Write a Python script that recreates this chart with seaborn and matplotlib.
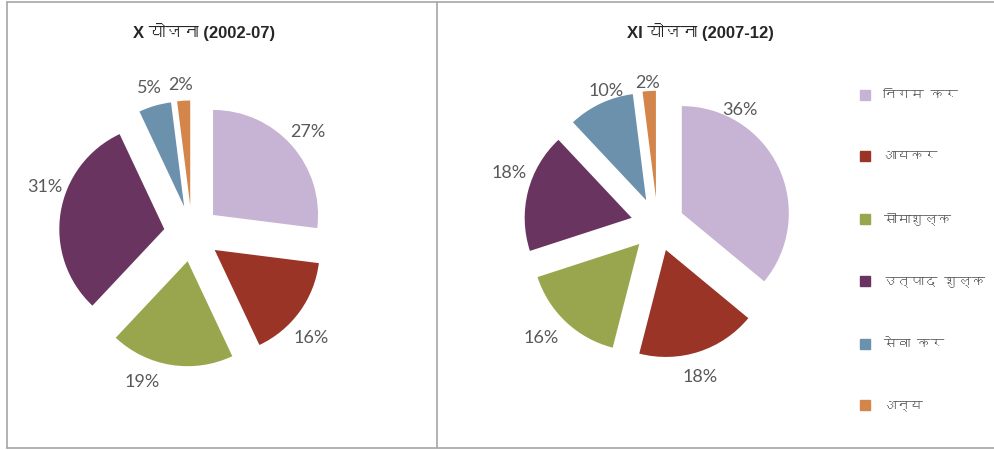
import numpy as np
import matplotlib
matplotlib.use("Agg")
import matplotlib.pyplot as plt
import seaborn as sns
from matplotlib import font_manager as fm
from matplotlib.ft2font import FT2Font
from matplotlib.patches import Rectangle
from matplotlib.lines import Line2D

# Tax heads (legend order) and their shares for the two plan periods
categories = ["निगम कर", "आयकर", "सीमाशुल्क", "उत्पाद शुल्क", "सेवा कर", "अन्य"]
plan_x_share = [27, 16, 19, 31, 5, 2]      # X योजना (2002-07)
plan_xi_share = [36, 18, 16, 18, 10, 2]    # XI योजना (2007-12)
titles = ["X योजना (2002-07)", "XI योजना (2007-12)"]

colors = ["#C7B3D3", "#9A3427", "#9AA64E", "#6A3461", "#6C91AD", "#D4864A"]

sns.set_theme(style="white")


def devanagari_families():
    found = []
    for f in fm.fontManager.ttflist:
        try:
            cmap = FT2Font(f.fname).get_charmap()
        except Exception:
            continue
        if 0x092F in cmap and 0x0928 in cmap and f.name not in found:
            found.append(f.name)
    return found


deva = devanagari_families()
label_font = ["Lato", "DejaVu Sans"]
hindi_font = deva + ["DejaVu Sans"]
title_font = ["Liberation Sans"] + deva + ["DejaVu Sans"]
plt.rcParams["font.family"] = ["Lato"] + deva + ["DejaVu Sans"]

W, H = 995, 450
fig = plt.figure(figsize=(W / 100, H / 100), dpi=100)
fig.patch.set_facecolor("white")

text_gray = "#595959"


def add_pie(values, cx, cy, r_px, explode, pctdist, nudges, title, title_xy):
    aw, ah = 380, 420
    ax = fig.add_axes([(cx - aw / 2) / W, (H - cy - ah / 2) / H, aw / W, ah / H])
    wedges, _, autotexts = ax.pie(
        values, colors=colors, startangle=90, counterclock=False,
        explode=[explode] * len(values), radius=1.0,
        autopct=lambda p: f"{p:.0f}%", pctdistance=pctdist,
        wedgeprops=dict(linewidth=0),
        textprops=dict(color=text_gray, fontsize=13, family=label_font),
    )
    # pie() resets the limits, so fix the scale afterwards
    ax.set_xlim(-aw / 2 / r_px, aw / 2 / r_px)
    ax.set_ylim(-ah / 2 / r_px, ah / 2 / r_px)
    ax.set_aspect("equal")
    ax.axis("off")
    for t, (dx, dy) in zip(autotexts, nudges):
        x, y = t.get_position()
        t.set_position((x + dx / r_px, y - dy / r_px))
    fig.text(title_xy[0] / W, 1 - title_xy[1] / H, title, ha="center", va="center",
             fontsize=12, fontweight="bold", color="#262626", family=title_font)
    return wedges


add_pie(plan_x_share, 192, 233.5, 105, 0.267, 1.2,
        [(0, 0), (-5, 14), (-26, -4), (5, -22), (0, 2), (-2, 5)],
        titles[0], (204, 32))
add_pie(plan_xi_share, 657.6, 224.5, 107, 0.25, 1.2,
        [(-58, -48), (-5, 5), (-10, 0), (2, -13), (15, 7), (0, 13)],
        titles[1], (700, 32))

# Legend entries down the right side
leg_y = [95, 156, 219, 281, 344, 405]
for name, col, y in zip(categories, colors, leg_y):
    fig.patches.append(Rectangle((860 / W, 1 - (y + 5) / H), 10 / W, 10 / H,
                                 transform=fig.transFigure, color=col, figure=fig))
    fig.text(883 / W, 1 - y / H, name, ha="left", va="center", fontsize=9.8,
             color=text_gray, family=hindi_font)

# Panel frames
frame = "#A6A6A6"
for xs, ys in [((7, 7), (2, 448)), ((437, 437), (2, 448)),
               ((7, 995), (2, 2)), ((7, 995), (448, 448))]:
    fig.lines.append(Line2D([x / W for x in xs], [1 - y / H for y in ys],
                            transform=fig.transFigure, color=frame, linewidth=1.2))

fig.savefig("out.png", dpi=100, facecolor="white")
